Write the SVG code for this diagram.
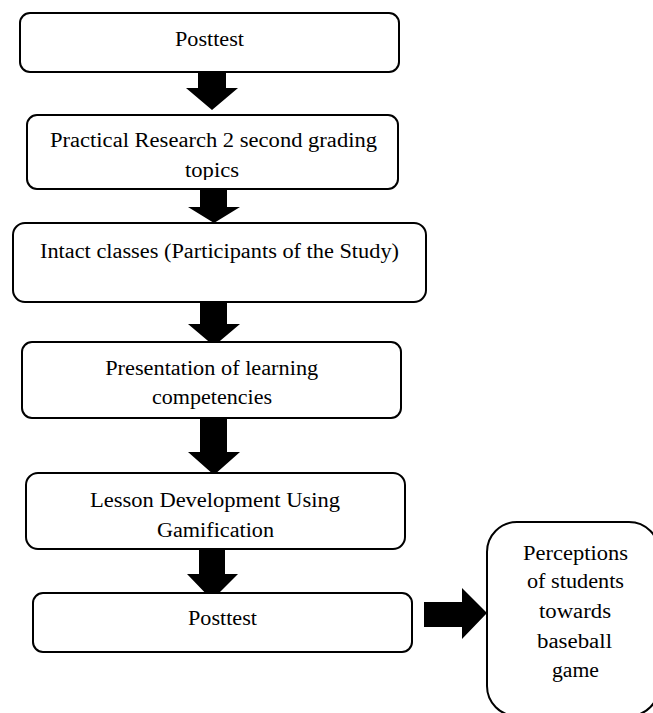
<svg xmlns="http://www.w3.org/2000/svg" width="653" height="713" viewBox="0 0 653 713">
<style>
.box{fill:#fff;stroke:#000;stroke-width:2}
.t{font-family:'Liberation Serif','Times New Roman',serif;font-size:20px;fill:#000;text-anchor:middle}
.arr{fill:#000;stroke:none}
</style>
<defs>
<clipPath id="clipTopics"><rect x="27" y="115" width="371" height="65"/></clipPath>
</defs>
<rect width="653" height="713" fill="#fff"/>
<g id="connectors">
<path class="arr" d="M198,72 H226 V88 H238 L212,110 L186,88 H198 Z"/>
<path class="arr" d="M200,189 H227 V207 H240 L214,223 L188,207 H200 Z"/>
<path class="arr" d="M200,302 H227 V324 H240 L214,346 L188,324 H200 Z"/>
<path class="arr" d="M200,418 H227 V452 H240 L214,475 L188,452 H200 Z"/>
<path class="arr" d="M199,549 H225 V574 H238 L212,600 L187,574 H199 Z"/>
<path class="arr" d="M424,602 H462 V588 L487,613 L462,639 V627 H424 Z"/>
</g>
<g id="n1">
<rect class="box" x="20" y="13" width="379" height="59" rx="10"/>
<text class="t" x="209.5" y="46" textLength="69" lengthAdjust="spacingAndGlyphs">Posttest</text>
</g>
<g id="n2">
<rect class="box" x="27" y="115" width="371" height="74" rx="10"/>
<text class="t" x="213.5" y="147" textLength="327" lengthAdjust="spacingAndGlyphs">Practical Research 2 second grading</text>
<text class="t" x="212" y="177" textLength="54" lengthAdjust="spacingAndGlyphs" clip-path="url(#clipTopics)">topics</text>
</g>
<g id="n3">
<rect class="box" x="13" y="223" width="413" height="79" rx="12"/>
<text class="t" x="219.5" y="258" textLength="359" lengthAdjust="spacingAndGlyphs">Intact classes (Participants of the Study)</text>
</g>
<g id="n4">
<rect class="box" x="22" y="342" width="379" height="76" rx="10"/>
<text class="t" x="211.7" y="375" textLength="213" lengthAdjust="spacingAndGlyphs">Presentation of learning</text>
<text class="t" x="212" y="404" textLength="120" lengthAdjust="spacingAndGlyphs">competencies</text>
</g>
<g id="n5">
<rect class="box" x="26" y="473" width="379" height="76" rx="12"/>
<text class="t" x="215" y="507" textLength="250" lengthAdjust="spacingAndGlyphs">Lesson Development Using</text>
<text class="t" x="215.5" y="537" textLength="117" lengthAdjust="spacingAndGlyphs">Gamification</text>
</g>
<g id="n6">
<rect class="box" x="33" y="593" width="379" height="59" rx="10"/>
<text class="t" x="222.5" y="625" textLength="69" lengthAdjust="spacingAndGlyphs">Posttest</text>
</g>
<g id="n7">
<rect class="box" x="487" y="522" width="172" height="194" rx="30"/>
<text class="t" x="575.5" y="560" textLength="105" lengthAdjust="spacingAndGlyphs">Perceptions</text>
<text class="t" x="575.5" y="588" textLength="97" lengthAdjust="spacingAndGlyphs">of students</text>
<text class="t" x="575" y="618" textLength="72" lengthAdjust="spacingAndGlyphs">towards</text>
<text class="t" x="574.5" y="648" textLength="75" lengthAdjust="spacingAndGlyphs">baseball</text>
<text class="t" x="575.5" y="677" textLength="47" lengthAdjust="spacingAndGlyphs">game</text>
</g>
</svg>
